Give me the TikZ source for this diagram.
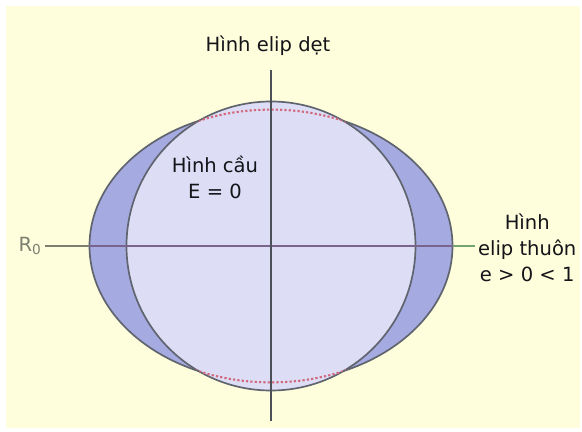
\documentclass[tikz,border=0pt]{standalone}
\usepackage{fontspec}
\setmainfont{DejaVu Sans}
\definecolor{nen}{RGB}{254,253,220}
\definecolor{xanhdam}{RGB}{165,171,225}
\definecolor{xanhnhat}{RGB}{221,222,246}
\definecolor{vien}{RGB}{95,100,110}
\definecolor{chamdo}{RGB}{210,105,125}
\definecolor{xam}{RGB}{125,128,112}
\definecolor{tim}{RGB}{120,100,140}
\definecolor{xanhla}{RGB}{115,165,115}
\definecolor{chu}{RGB}{20,20,25}

\begin{document}
\begin{tikzpicture}[font=\fontsize{13.9}{18.5}\selectfont, text=chu]
      \useasboundingbox (-6.775,-4.65) rectangle (7.775,6.15);
      \fill[nen] (-6.625,-4.55) rectangle (7.725,6.0);
      % elip det va hinh cau
      \filldraw[fill=xanhdam, draw=vien, line width=1.2pt] (0,0) ellipse (4.5375 and 3.41);
      \filldraw[fill=xanhnhat, draw=vien, line width=1.2pt] (0,0) circle (3.6125);
      \begin{scope}
        \clip (0,0) circle (3.6125);
        \draw[chamdo, line width=1.5pt, dash pattern=on 1.6pt off 1.5pt] (0,0) ellipse (4.5375 and 3.41);
      \end{scope}
      \node (det) at (-0.075, 5.0) {Hình elip dẹt};
      \node[align=center] (cau) at (-1.4, 1.725) {Hình cầu\\E = 0};
      \node[text=xam, inner sep=2pt] (r0) at (-6.025, 0) {R\textsubscript{0}};
      \node[align=center, anchor=west, inner sep=2pt] (thuon) at (5.1, -0.05) {Hình\\elip thuôn\\e > 0 < 1};
      \coordinate (tren) at (0, 4.4);
      \coordinate (duoi) at (0, -4.375);
      \coordinate (trai) at (-4.5375, 0);
      \coordinate (ben) at (4.5375, 0);
      \draw[xam, line width=0.9pt] (r0.east) -- (trai);
      \draw[tim, line width=0.9pt] (trai) -- (ben);
      \draw[xanhla, line width=0.9pt] (ben) -- (thuon.west |- ben);
      \draw[vien!80!black, line width=0.9pt] (tren) -- (duoi);
    \end{tikzpicture}
\end{document}
